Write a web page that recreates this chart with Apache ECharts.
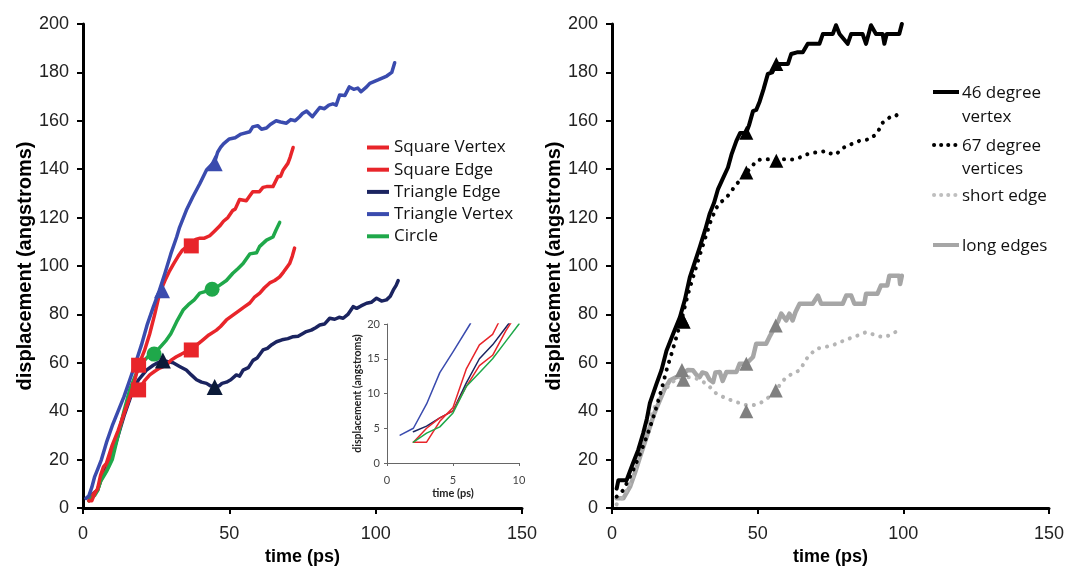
<!DOCTYPE html>
<html>
<head>
<meta charset="utf-8">
<script src="https://cdn.jsdelivr.net/npm/echarts@6/dist/echarts.min.js"></script>
<style>html,body{margin:0;padding:0;background:#fff;}#c{width:1067px;height:571px;}</style>
</head>
<body>
<div id="c"></div>
<script>
// ---- Left chart data: [time (ps), displacement (angstroms)] ----
const squareVertex = [[2,3],[3,3],[4,6],[5,8],[6,13.5],[7,17],[8,18.5],[8.4,20],[10,26],[12,32],[14,39],[16,46],[17.5,52],[19,59],[21,65],[22.8,72],[24.5,80],[26.2,88.8],[28,94],[29.6,98],[31,101],[32.5,104],[34,106.6],[35.5,108],[37,108.3],[38.5,111],[40,111.5],[41.5,111.5],[43.3,112.5],[45,114.5],[46.7,116.5],[48,118.5],[49.5,120],[51.2,123],[52,123.5],[53.5,127.5],[55.8,127],[57,129],[58,130.7],[60.3,130.7],[61.5,132.5],[62.7,132.8],[64.9,132.8],[66.6,137],[67.5,137],[68.4,139.7],[70,142.4],[70.8,145],[71.8,149]];
const squareEdge = [[2,3],[3,5],[4,6.5],[5,7.5],[6,11],[7,14],[8,15.5],[9,19],[10,22],[12,31],[14,39],[16,46],[18,48],[19.4,49.5],[21,52.5],[22.8,55],[24.5,56.5],[26.2,57.8],[28.5,59],[30,61],[31.9,62.5],[33.5,63.5],[35,64.5],[37,65.3],[39,67.5],[40.9,69.4],[43,71.5],[45.6,73.5],[47,75],[49,77.7],[51,79.5],[53.6,81.8],[55,83],[57,84.7],[58.5,87],[60.4,88.8],[62,91],[63.8,93],[65.5,94],[67.2,95.5],[68.5,97.5],[70,100],[70.6,101],[71.5,104],[72.3,107.4]];
const triangleEdge = [[2,4.5],[3,5.3],[4,6.5],[5,7.5],[6,11.5],[7,15],[8,17],[9,19.5],[10,22],[12,30],[14,38],[16,45],[17,48.8],[19,53],[21.7,57],[24,59],[25.5,60],[27.3,61],[29,60.5],[30.8,60],[33,58.5],[35.3,57],[37,55],[38.8,53],[40.5,52],[42.2,51.5],[43.5,50.5],[45,50],[46.5,50.5],[47.5,51.5],[49,52],[50.5,53],[52.4,55],[53.5,54.5],[54.7,57],[56.5,58],[58.1,61],[59.5,62],[61.5,65.3],[63,66],[64.5,67.5],[66.1,68.7],[68,69.5],[70,70],[71.8,70.8],[73.5,71],[75,72],[76.3,72.9],[78,73.5],[79.5,74.5],[80.9,75.6],[82.5,76],[84.3,78.4],[86,78],[87.5,78.8],[88.9,78.4],[90.5,80],[92.3,83.2],[93.5,82.5],[95,83.5],[96.9,84.6],[98.5,85],[100.3,86.7],[102,85.5],[103.7,86],[105,87.5],[106,90],[107,92],[107.7,94]];
const triangleVertex = [[1,4],[2,5],[3,8.5],[4,13],[5,16],[6.3,20],[8,27],[10,34],[12,40],[14,46],[16,53],[18,60],[20,67.5],[22,76],[24,83],[26,89.5],[28,97],[30,105],[32,112],[33,116],[35.3,123],[37.5,128.5],[39.9,134],[42.2,139.7],[44,142],[45,143],[46,147],[47,149],[48,150.5],[50,152.5],[52,153],[54,154.5],[57,155.5],[58,157.5],[59.7,158],[61,156.5],[62.7,157],[64,158.5],[66,160],[67.5,159.5],[69.5,159],[71,160.5],[72.5,160],[74,161.7],[75,163],[76.4,164],[78.4,161.7],[80.9,165.5],[82.5,165],[84,166.5],[85.4,167],[86.5,166.5],[87.7,170.7],[89.5,170.5],[91,174],[92.5,173],[93.9,173.5],[95,172],[96.9,174],[98,175.5],[99,176],[101,177],[103.8,178.5],[105.5,180],[106.5,184]];
const circle = [[2,3],[3,4.3],[4,5.2],[5,7.2],[6,11],[7,13],[8,15],[9,17.5],[10,20],[12,30],[14,40],[16,49],[18,55],[19.4,59],[21,61],[22.5,63],[24.3,63.6],[26,66],[28.5,69.4],[30,72],[32,77],[34.2,81.8],[36,84],[38,86],[39.9,88.8],[42,89.5],[44.1,90.4],[46,91.5],[49,94],[51.2,97],[53,99],[54.7,101],[57,105],[59.3,105.5],[60.3,108],[62.7,110.7],[64.9,112],[66,115],[67.2,118]];
// markers
const squareVertexMarks = [[19,59],[37,108.3]];
const squareEdgeMarks = [[19,48.8],[37,65.3]];
const triangleEdgeMarks = [[27.3,61],[45,50]];
const triangleVertexMarks = [[27,90],[45,142.5]];
const circleMarks = [[24.3,63.6],[44.1,90.4]];

// ---- Right chart data ----
const deg46 = [[1.6,8],[2.2,11.5],[5,11.5],[7.2,18.5],[9,24],[10.7,30.9],[12,37],[13,43.3],[15.3,51.4],[17,57],[18.7,65],[21,72],[23.3,78.8],[25,86],[26.7,95.3],[28,100],[30.1,107.7],[32,115],[33.5,121.5],[35,126],[36.4,131.8],[38,136],[39.8,140.7],[41,146],[42.7,151.7],[44,155],[46.1,155.1],[47,158],[48.4,164],[49.5,164.5],[50.7,168],[52,173],[53.5,179.4],[55,180],[56.4,183.5],[58,183.5],[60.4,183.5],[61.5,187.6],[63.5,188.3],[65.5,188.3],[67.2,191.8],[69,191.8],[71.2,191.8],[72.4,195.9],[74,195.9],[75.8,195.9],[76.9,199.5],[78.1,195.9],[80.9,191.8],[82.1,195.9],[84,195.9],[86,195.9],[87.2,191.8],[88.9,199.5],[90.6,195.9],[92.9,195.9],[93.5,191.8],[94.3,195.9],[96,195.9],[98.6,195.9],[99.5,200]];
const deg67 = [[1.6,4.7],[3.9,7.4],[7.3,15.7],[9.5,22],[11.9,29.4],[13.5,35],[15.3,41.8],[17,49],[18.7,56.9],[20.5,64],[22.1,70.6],[24.4,80.3],[26,88],[27.8,95.3],[30,104],[32.4,113],[34,119],[35.8,124],[37.5,126.5],[39.3,128.3],[41,131],[42.7,133.8],[44.5,136],[46.1,138.6],[48,141],[49.5,143.5],[51,144],[52.9,144.1],[56,144],[59.8,144.1],[62,144],[64.4,144.8],[66.5,146],[68.9,146.8],[71,147],[73.5,147.5],[75,146.5],[76.9,146.1],[78.5,148],[80.4,149.6],[82.5,150.5],[84.9,151.7],[86.5,152],[88.4,152.4],[90.6,154.4],[92,157],[92.9,159.2],[95.2,161.3],[97,161.5],[98.6,163.4]];
const shortEdge = [[1.6,1.5],[4,5],[7.3,12.9],[10,25],[13,37.6],[16.4,45.9],[19.9,51.4],[22,53],[24.4,54.1],[27,54],[29,53.5],[32.4,51.4],[34,49.5],[35.8,47.3],[39.3,45.2],[42.7,43.8],[46.1,42.5],[48.5,42.5],[50.7,43.2],[54,45.9],[56.2,48.5],[58,51.5],[59.8,54.1],[62,55.5],[64.4,56.9],[66,60],[67.2,62.4],[70.1,65.8],[73,66.5],[75.8,67.2],[78.1,68.5],[80.5,69.5],[82.6,70.6],[85,71.5],[87.2,72.7],[89,72],[90.6,71.3],[92.9,70.6],[95.2,71.3],[97,72.5],[98.6,73.7]];
const longEdges = [[1.6,4],[3.9,4],[6.2,8.8],[8,15],[9.6,21],[11.5,28],[13,33.5],[14.5,39],[16.4,44.5],[18,49],[19.9,52.8],[22.1,54.1],[24,55],[26,57],[27.8,56.9],[29,55],[30.1,54.1],[31,56],[32.4,55.5],[33.5,53],[34.7,52],[35.5,56],[37,56.2],[38,52.5],[39.3,56.2],[41,56.2],[42.7,56.2],[43.8,59.6],[46.1,59.6],[48.4,62.4],[49.5,67.9],[51,67.9],[52.9,67.9],[54,70.6],[56.2,75.4],[57,77],[58.1,80.3],[59.8,77.5],[60.9,80.3],[62,77.5],[63,81],[64.4,84.4],[66,84.4],[68.9,84.4],[70.7,87.8],[71.8,84.4],[75,84.4],[79.2,84.4],[80.4,87.8],[82.1,87.8],[83.2,84.4],[86.6,84.4],[87.2,88.5],[91.1,88.5],[92.3,91.9],[94.5,91.9],[95.2,96],[98.6,96],[98.9,92.6],[99.5,96]];
const deg46Marks = [[24,78.2],[46.1,155.1],[56.4,183.5]];
const deg67Marks = [[24.6,77],[46.1,138.6],[56.4,143.5]];
const shortEdgeMarks = [[24.5,53],[46.1,40],[56.2,48.6]];
const longEdgesMarks = [[24,57],[46.1,59.6],[56.2,75.4]];

// ---- ticks ----
const mainXTicks = {min: 0, max: 150, interval: 50};
const mainYTicks = {min: 0, max: 200, interval: 20};
const insetXTicks = {min: 0, max: 10, interval: 5};
const insetYTicks = {min: 0, max: 20, interval: 5};

const RED = '#E8252A', NAVY = '#1B2460', BLUE = '#3A4BAE', GREEN = '#1FA84A';
const GRAY = '#A6A6A6', DGRAY = '#808080';
const ARIAL = 'Arial, "Liberation Sans", sans-serif';

const chart = echarts.init(document.getElementById('c'), null, {renderer: 'canvas'});

function mainX(grid) {
  return Object.assign({
    type: 'value', gridIndex: grid,
    name: 'time (ps)', nameLocation: 'middle', nameGap: 40,
    nameTextStyle: {fontFamily: ARIAL, fontWeight: 'bold', fontSize: 18, color: '#000'},
    axisLine: {onZero: false, lineStyle: {color: '#000', width: 3}},
    axisTick: {show: true, inside: false, length: 6, lineStyle: {color: '#000', width: 2}},
    axisLabel: {fontFamily: ARIAL, fontSize: 18, color: '#222', margin: 17},
    splitLine: {show: false}
  }, mainXTicks);
}
function mainY(grid, gap) {
  return Object.assign({
    type: 'value', gridIndex: grid,
    name: 'displacement (angstroms)', nameLocation: 'middle', nameGap: gap,
    nameTextStyle: {fontFamily: ARIAL, fontWeight: 'bold', fontSize: 20, color: '#000'},
    axisLine: {onZero: false, lineStyle: {color: '#000', width: 3}},
    axisTick: {show: true, inside: false, length: 6, lineStyle: {color: '#000', width: 2}},
    axisLabel: {fontFamily: ARIAL, fontSize: 18, color: '#222', margin: 14},
    splitLine: {show: false}
  }, mainYTicks);
}

function line(name, data, color, width, xi, yi, extra) {
  return {
    name: name, type: 'line', data: data, xAxisIndex: xi, yAxisIndex: yi,
    showSymbol: false, symbol: 'none', smooth: false, color: color,
    lineStyle: Object.assign({color: color, width: width, join: 'round', cap: 'round'}, extra || {}),
    silent: true
  };
}
function marks(name, data, color, symbol, size, xi, yi) {
  return {name: name, type: 'scatter', data: data, xAxisIndex: xi, yAxisIndex: yi,
    symbol: symbol, symbolSize: size, itemStyle: {color: color, opacity: 1}, z: 5, silent: true};
}
const insetClip = d => d.filter(p => p[0] <= 10.5);

const dotted = {type: [0.1, 8], cap: 'round'};

const option = {
  animation: false,
  backgroundColor: '#fff',
  grid: [
    {left: 83, top: 24, width: 439, height: 484},
    {left: 612, top: 24, width: 439, height: 484},
    {left: 387, top: 324, width: 132, height: 139}
  ],
  xAxis: [
    mainX(0), mainX(1),
    Object.assign({
      type: 'value', gridIndex: 2, name: 'time (ps)', nameLocation: 'middle', nameGap: 25,
      nameTextStyle: {fontFamily: 'Lato', fontWeight: 'bold', fontSize: 11, color: '#222'},
      axisLine: {onZero: false, lineStyle: {color: '#666', width: 1}},
      axisTick: {show: true, length: 3, lineStyle: {color: '#666'}},
      axisLabel: {fontFamily: 'Lato', fontSize: 11, color: '#444', margin: 12},
      splitLine: {show: false}
    }, insetXTicks)
  ],
  yAxis: [
    mainY(0, 48), mainY(1, 45),
    Object.assign({
      type: 'value', gridIndex: 2, name: 'displacement (angstroms)', nameLocation: 'middle', nameGap: 22,
      nameTextStyle: {fontFamily: 'Lato', fontWeight: 'bold', fontSize: 10.5, color: '#222'},
      axisLine: {onZero: false, lineStyle: {color: '#666', width: 1}},
      axisTick: {show: true, length: 3, lineStyle: {color: '#666'}},
      axisLabel: {fontFamily: 'Lato', fontSize: 11, color: '#444', margin: 7},
      splitLine: {show: false}
    }, insetYTicks)
  ],
  legend: {
    orient: 'vertical', left: 362, top: 134, itemWidth: 22, itemHeight: 4, itemGap: 5.2,
    icon: 'rect', selectedMode: false,
    textStyle: {fontFamily: 'Open Sans', fontSize: 17, lineHeight: 17, color: '#111'},
    data: ['Square Vertex', 'Square Edge', 'Triangle Edge', 'Triangle Vertex', 'Circle']
  },
  graphic: [
    {type: 'line', shape: {x1: 933, y1: 92, x2: 959, y2: 92}, style: {stroke: '#000', lineWidth: 4}},
    {type: 'text', left: 962, top: 81, style: {text: '46 degree\nvertex', font: '17px "Open Sans"', fill: '#111', lineHeight: 24}},
    {type: 'line', shape: {x1: 934, y1: 145, x2: 959, y2: 145}, style: {stroke: '#000', lineWidth: 4, lineDash: [0.1, 7], lineCap: 'round'}},
    {type: 'text', left: 962, top: 134, style: {text: '67 degree\nvertices', font: '17px "Open Sans"', fill: '#111', lineHeight: 23.5}},
    {type: 'line', shape: {x1: 934, y1: 195, x2: 959, y2: 195}, style: {stroke: '#BFBFBF', lineWidth: 4, lineDash: [0.1, 7], lineCap: 'round'}},
    {type: 'text', left: 962, top: 184, style: {text: 'short edge', font: '17px "Open Sans"', fill: '#111', lineHeight: 24}},
    {type: 'line', shape: {x1: 933, y1: 245, x2: 959, y2: 245}, style: {stroke: GRAY, lineWidth: 4}},
    {type: 'text', left: 962, top: 234, style: {text: 'long edges', font: '17px "Open Sans"', fill: '#111', lineHeight: 24}}
  ],
  series: [
    // left main
    line('Triangle Edge', triangleEdge, NAVY, 3.5, 0, 0),
    line('Square Edge', squareEdge, RED, 3.5, 0, 0),
    line('Circle', circle, GREEN, 3.5, 0, 0),
    line('Square Vertex', squareVertex, RED, 3.5, 0, 0),
    line('Triangle Vertex', triangleVertex, BLUE, 3.5, 0, 0),
    marks('sv', squareVertexMarks, RED, 'rect', 15, 0, 0),
    marks('se', squareEdgeMarks, RED, 'rect', 15, 0, 0),
    marks('ci', circleMarks, GREEN, 'circle', 15, 0, 0),
    marks('te', triangleEdgeMarks, '#0B1A38', 'triangle', 16, 0, 0),
    marks('tv', triangleVertexMarks, BLUE, 'triangle', 16, 0, 0),
    // inset
    line('Triangle Vertex', insetClip(triangleVertex), BLUE, 1.5, 2, 2),
    line('Triangle Edge', insetClip(triangleEdge), NAVY, 1.5, 2, 2),
    line('Square Vertex', insetClip(squareVertex), RED, 1.5, 2, 2),
    line('Square Edge', insetClip(squareEdge), RED, 1.5, 2, 2),
    line('Circle', insetClip(circle), GREEN, 1.5, 2, 2),
    // right
    line('long edges', longEdges, GRAY, 4.5, 1, 1),
    line('short edge', shortEdge, '#B5B5B5', 4, 1, 1, dotted),
    line('67 degree vertices', deg67, '#000', 4, 1, 1, dotted),
    line('46 degree vertex', deg46, '#000', 4, 1, 1),
    marks('m46', deg46Marks, '#000', 'triangle', 14, 1, 1),
    marks('m67', deg67Marks, '#000', 'triangle', 14, 1, 1),
    marks('mse', shortEdgeMarks, DGRAY, 'triangle', 14, 1, 1),
    marks('mle', longEdgesMarks, DGRAY, 'triangle', 14, 1, 1)
  ]
};
option.series.forEach(s => { if (s.xAxisIndex === 2) s.clip = true; });
chart.setOption(option);
</script>
</body>
</html>
